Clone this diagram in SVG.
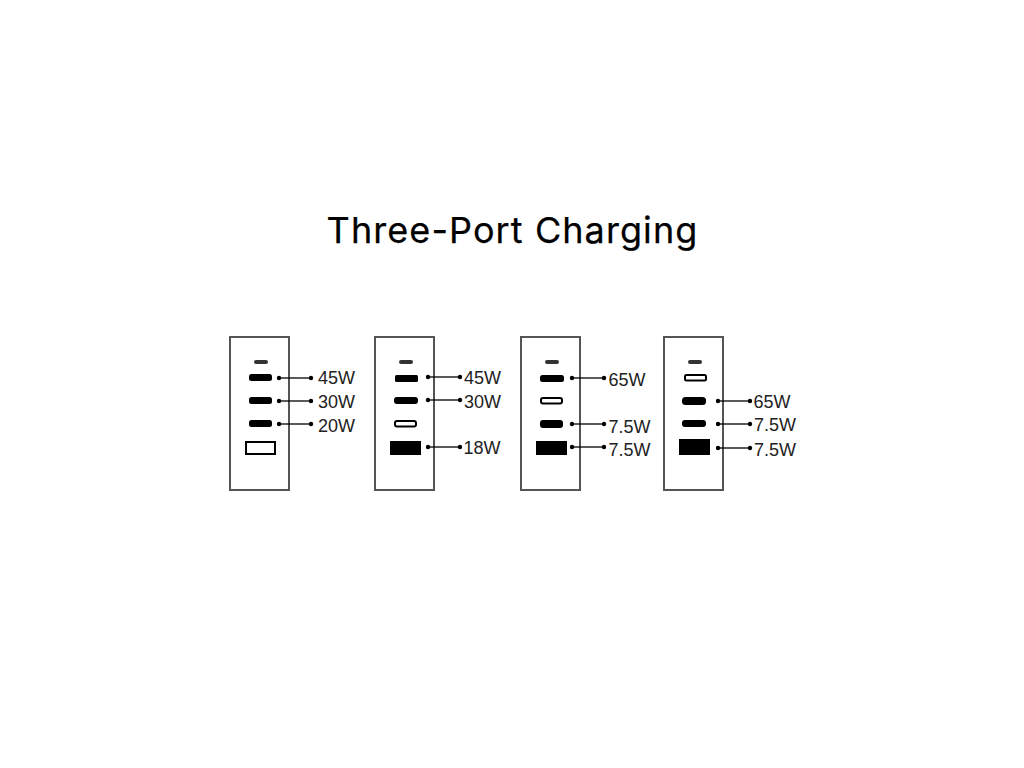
<svg xmlns="http://www.w3.org/2000/svg" width="1024" height="768" viewBox="0 0 1024 768">
<style>
text{font-family:"Inter","Liberation Sans",sans-serif;fill:#000}
.t{font-size:36px;letter-spacing:1.08px;text-anchor:middle;stroke:#000;stroke-width:.25px}
.l{font-size:18px;font-family:"Liberation Sans",Arial,sans-serif;fill:#222}
.b{fill:#fff;stroke:#555;stroke-width:2}
.s{fill:#333}
.f{fill:#000}
.o{fill:#fff;stroke:#000;stroke-width:2}
.c{stroke:#000;stroke-width:1.3;fill:none;marker-start:url(#d);marker-end:url(#d)}
</style>
<defs><marker id="d" markerUnits="userSpaceOnUse" markerWidth="6" markerHeight="6" refX="3" refY="3"><circle cx="3" cy="3" r="2.2" fill="#000"/></marker></defs>
<rect width="1024" height="768" fill="#fff"/>
<text class="t" x="512.500" y="243">Three-Port Charging</text>
<g id="charger-1">
<rect class="b" x="230" y="337" width="59" height="153"/>
<rect class="s" x="254" y="360" width="14" height="4" rx="2"/>
<rect class="f" x="249" y="374" width="23" height="7" rx="2.500"/>
<rect class="f" x="249" y="397" width="23" height="7" rx="2.500"/>
<rect class="f" x="249" y="420" width="23" height="7" rx="2.500"/>
<rect class="o" x="246" y="442" width="29" height="12"/>
<text class="l" x="318" y="384">45W</text>
<text class="l" x="318" y="408">30W</text>
<text class="l" x="318" y="432">20W</text>
</g>
<g id="charger-2">
<rect class="b" x="375" y="337" width="59" height="153"/>
<rect class="s" x="399" y="360" width="14" height="4" rx="2"/>
<rect class="f" x="395" y="375" width="23" height="7" rx="1.500"/>
<rect class="f" x="394" y="397" width="24" height="7" rx="3"/>
<rect class="o" x="395" y="421" width="21" height="5.500" rx="2"/>
<rect class="f" x="390" y="441" width="31" height="14"/>
<text class="l" x="464" y="384">45W</text>
<text class="l" x="464" y="408">30W</text>
<text class="l" x="463.500" y="454">18W</text>
</g>
<g id="charger-3">
<rect class="b" x="521" y="337" width="59" height="153"/>
<rect class="s" x="545" y="360" width="14" height="4" rx="2"/>
<rect class="f" x="540" y="375" width="24" height="7" rx="2.500"/>
<rect class="o" x="541" y="398" width="21" height="5.500" rx="2"/>
<rect class="f" x="540" y="420" width="23" height="8" rx="3"/>
<rect class="f" x="536" y="441" width="31" height="14"/>
<text class="l" x="608.500" y="386">65W</text>
<text class="l" x="608.500" y="433">7.5W</text>
<text class="l" x="608.500" y="456">7.5W</text>
</g>
<g id="charger-4">
<rect class="b" x="664" y="337" width="59" height="153"/>
<rect class="s" x="688" y="360" width="14" height="4" rx="2"/>
<rect class="o" x="685" y="375" width="21" height="5.500" rx="1.500"/>
<rect class="f" x="682" y="397" width="24" height="8" rx="3.500"/>
<rect class="f" x="682" y="420" width="24" height="7" rx="3"/>
<rect class="f" x="679" y="439" width="31" height="16"/>
<text class="l" x="753.500" y="408">65W</text>
<text class="l" x="754" y="431">7.5W</text>
<text class="l" x="754" y="456">7.5W</text>
</g>
<g id="connectors">
<path class="c" d="M279 378H311"/>
<path class="c" d="M279 401H311"/>
<path class="c" d="M279 424H311"/>
<path class="c" d="M428 377H460"/>
<path class="c" d="M428 400H460"/>
<path class="c" d="M428 447H460"/>
<path class="c" d="M572 378H604"/>
<path class="c" d="M572 424H604"/>
<path class="c" d="M572 447H604"/>
<path class="c" d="M718 401H750"/>
<path class="c" d="M718 424H750"/>
<path class="c" d="M718 448H750"/>
</g>
</svg>
